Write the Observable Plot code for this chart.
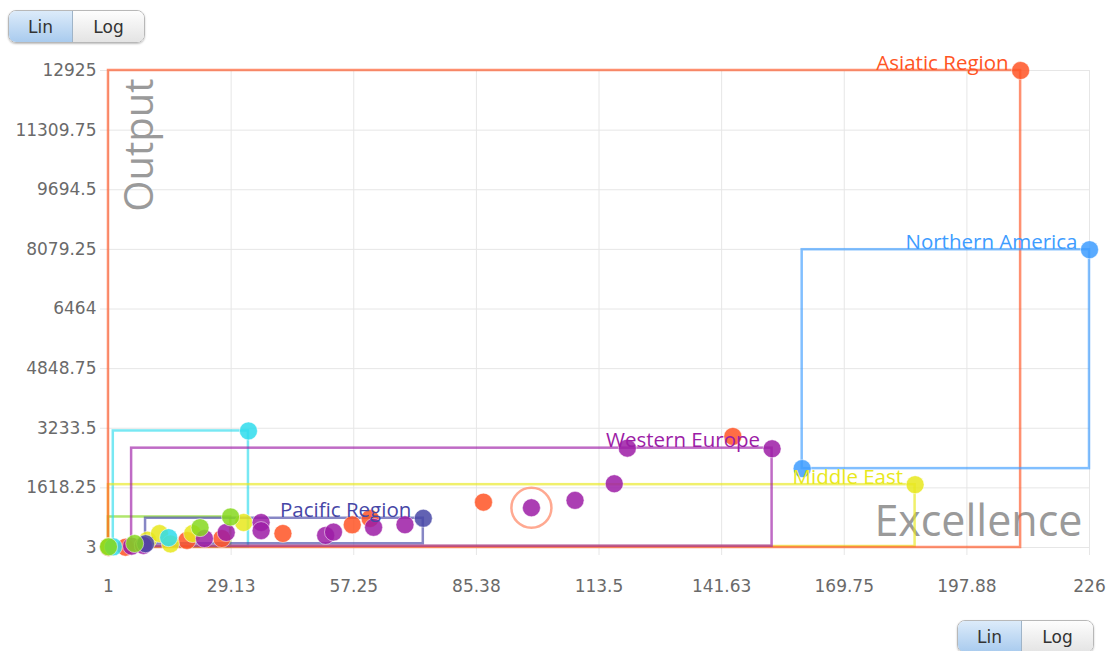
<!DOCTYPE html>
<html>
<head>
<meta charset="utf-8">
<script src="https://cdn.jsdelivr.net/npm/d3@7"></script>
<script src="https://cdn.jsdelivr.net/npm/@observablehq/plot@0.6"></script>
<style>
  html, body { margin: 0; padding: 0; background: #fff; }
  #wrap { position: relative; width: 1111px; height: 651px; overflow: hidden; }
  #chart { position: absolute; left: 0; top: 30px; z-index: 0; }
  .seg { position: absolute; z-index: 2; display: flex; height: 31px; border: 1px solid #b8b8b8; border-radius: 8px;
         overflow: hidden; box-shadow: 0 1px 2px rgba(0,0,0,0.25); font: 17px "DejaVu Sans", sans-serif; color: #333; }
  .seg span { display: flex; align-items: center; justify-content: center; background: linear-gradient(#fdfdfd, #e4e4e4); }
  .seg span.on { background: linear-gradient(#dcebfa, #a9cbee); border-right: 1px solid #9fb4c8; }
  .seg span.a { width: 63px; }
  .seg span.b { width: 71px; }
</style>
</head>
<body>
<div id="wrap">
  <div id="chart"></div>
  <div class="seg" style="left:8px;top:10px"><span class="a on">Lin</span><span class="b">Log</span></div>
  <div class="seg" style="left:957px;top:620px"><span class="a on">Lin</span><span class="b">Log</span></div>
</div>
<script>
// ---- data ----
const xTicks = [1, 29.13, 57.25, 85.38, 113.5, 141.63, 169.75, 197.88, 226];
const yTicks = [3, 1618.25, 3233.5, 4848.75, 6464, 8079.25, 9694.5, 11309.75, 12925];

const regionLabels = ["Asiatic Region", "Northern America", "Middle East", "Western Europe", "Pacific Region", "", ""];
const regionColors = ["#ff5424", "#3d9cff", "#e8e81c", "#9c1ca6", "#4646a6", "#2fdcec", "#86d81e"];

const asiaX = [1, 4.9, 19, 27, 41, 56.9, 61, 87, 144.2, 210.2];
const asiaY = [3, 10, 193, 247, 382, 618, 789, 1231, 3011, 12925];
const naX = [160.1, 226];
const naY = [2140, 8070];
const meX = [1, 10, 12.7, 15.2, 20.3, 32, 186];
const meY = [30, 200, 380, 100, 380, 680, 1705];
const weX = [6.3, 9, 23, 28, 36, 36, 50.8, 52.6, 61.8, 69, 98, 108, 117, 120, 153.2];
const weY = [40, 60, 245, 410, 680, 460, 330, 420, 550, 620, 1080, 1280, 1730, 2694, 2678];
const paX = [9.5, 73.2];
const paY = [105, 795];
const cyX = [2.1, 14.8, 33.1];
const cyY = [20, 270, 3160];
const grX = [1, 7, 22, 29];
const grY = [20, 110, 540, 830];

const highlightX = [98];
const highlightY = [1080];

// ---- build tables ----
const seriesX = [asiaX, naX, meX, weX, paX, cyX, grX];
const seriesY = [asiaY, naY, meY, weY, paY, cyY, grY];
const points = [];
seriesX.forEach((xs, r) => xs.forEach((x, i) => points.push({r, x, y: seriesY[r][i], color: regionColors[r]})));
const boxes = seriesX.map((xs, r) => ({
  r, label: regionLabels[r], color: regionColors[r],
  x1: d3.min(xs), x2: d3.max(xs), y1: d3.min(seriesY[r]), y2: d3.max(seriesY[r]),
  ymax: d3.max(seriesY[r])
}));
const boxOrder = [6, 5, 2, 0, 1, 4, 3];
const highlight = highlightX.map((x, i) => ({x, y: highlightY[i]}));

const chart = Plot.plot({
  width: 1111,
  height: 590,
  marginLeft: 108,
  marginRight: 22,
  marginTop: 40,
  marginBottom: 73,
  style: {fontFamily: "'DejaVu Sans', sans-serif", background: "transparent"},
  x: {domain: [1, 226], label: null},
  y: {domain: [3, 12925], label: null},
  marks: [
    Plot.gridX(xTicks, {stroke: "#e6e6e6", strokeOpacity: 1}),
    Plot.gridY(yTicks, {stroke: "#e6e6e6", strokeOpacity: 1}),
    Plot.axisX({ticks: xTicks, tickSize: 8, tickPadding: 24, stroke: "#e6e6e6", fill: "#6a6a6a", fontSize: 17, tickFormat: d => String(d), label: null}),
    Plot.axisY({ticks: yTicks, tickSize: 8, tickPadding: 4, stroke: "#e6e6e6", fill: "#6a6a6a", fontSize: 17, tickFormat: d => String(d), label: null}),
    Plot.text(["Output"], {frameAnchor: "top-left", dx: 44, dy: 8, rotate: -90, textAnchor: "end", lineAnchor: "bottom",
      fontSize: 40, fill: "#9a9a9a", fontFamily: "'Open Sans', sans-serif"}),
    Plot.text(["Excellence"], {frameAnchor: "bottom-right", dx: -7, dy: -12, textAnchor: "end", lineAnchor: "bottom",
      fontSize: 43, fill: "#9a9a9a", fontFamily: "'Open Sans', sans-serif"}),
    Plot.rect(boxOrder.map(i => boxes[i]), {x1: "x1", x2: "x2", y1: "y1", y2: "y2", fill: "none",
      stroke: d => d.color, strokeWidth: 2.5, strokeOpacity: 0.65}),
    Plot.dot(points, {x: "x", y: "y", r: 9, fill: d => d.color, fillOpacity: 0.85, stroke: "white", strokeOpacity: 0.5, strokeWidth: 1}),
    Plot.dot(highlight, {x: "x", y: "y", r: 20, fill: "none", stroke: "#ff9a7e", strokeWidth: 2.5, strokeOpacity: 0.85}),
    Plot.text(boxes.filter(d => d.label), {x: "x2", y: "ymax", text: "label", fill: d => d.color, textAnchor: "end", lineAnchor: "bottom",
      dx: -12, dy: -1, fontSize: 20.5, fontFamily: "'Open Sans', sans-serif"})
  ]
});
document.getElementById("chart").appendChild(chart);
</script>
</body>
</html>
